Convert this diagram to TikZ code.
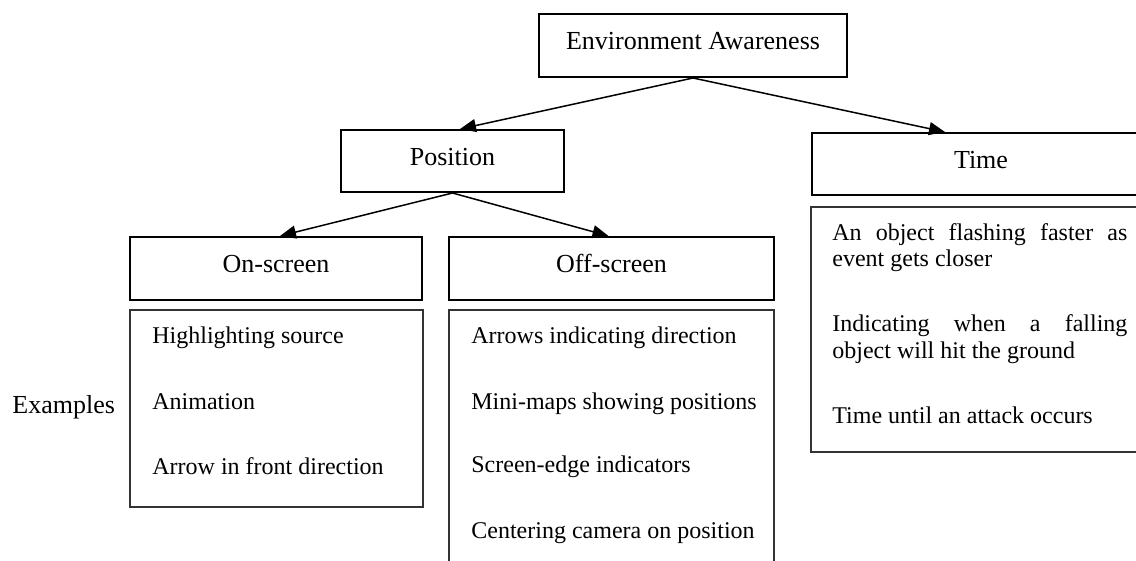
\documentclass[tikz,border=0pt]{standalone}
\usepackage{fontspec}
\setmainfont{Liberation Serif}
\usetikzlibrary{arrows.meta}
\begin{document}
\begin{tikzpicture}[x=0.5pt,y=-0.5pt,
  head/.style={draw=black,line width=1pt,rectangle,inner sep=0pt,font=\fontsize{13}{15.6}\selectfont,text height=9pt,text depth=4.5pt},
  exbox/.style={draw=black!80,line width=0.8pt,rectangle,inner sep=0pt},
  item/.style={anchor=base west,inner sep=0pt,font=\fontsize{12}{14.4}\selectfont},
  arr/.style={line width=0.75pt,-{Triangle[length=8pt,width=6.5pt]}}]
\useasboundingbox (0,0) rectangle (1136,561);
\clip (0,0) rectangle (1136,561);

% heading boxes
\node[head,minimum width=154pt,minimum height=31.5pt] (env) at (693,45.5) {Environment Awareness};
\node[head,minimum width=111.5pt,minimum height=31pt] (pos) at (452.5,161) {Position};
\node[head,minimum width=169pt,minimum height=31pt] (time) at (981,164) {Time};
\node[head,minimum width=146pt,minimum height=31.5pt] (on) at (276,268.5) {On-screen};
\node[head,minimum width=162.5pt,minimum height=31.5pt] (off) at (611.5,268.5) {Off-screen};

% example boxes
\node[exbox,minimum width=146.5pt,minimum height=98.5pt] (onex) at (276.5,408.5) {};
\node[exbox,minimum width=162.5pt,minimum height=140pt] (offex) at (611.5,450) {};
\node[exbox,minimum width=169.5pt,minimum height=122.5pt] (timex) at (980.5,329.5) {};

% label
\node[item,font=\fontsize{13}{15.6}\selectfont] (exlabel) at (12,414) {Examples};

% on-screen items
\node[item] (on1) at (152,344) {Highlighting source};
\node[item] (on2) at (152,409) {Animation};
\node[item] (on3) at (152,474) {Arrow in front direction};

% off-screen items
\node[item] (off1) at (471,344) {Arrows indicating direction};
\node[item] (off2) at (471,409) {Mini-maps showing positions};
\node[item] (off3) at (471,473) {Screen-edge indicators};
\node[item] (off4) at (471,538) {Centering camera on position};

% time items
\node[item] (t1a) at (832,241) {\makebox[147.5pt][s]{An object flashing faster as}};
\node[item] (t1b) at (832,267) {event gets closer};
\node[item] (t2a) at (832,332) {\makebox[147.5pt][s]{Indicating when a falling}};
\node[item] (t2b) at (832,358) {object will hit the ground};
\node[item] (t3) at (832,423) {Time until an attack occurs};

% connectors
\draw[arr] (env.south) -- ([xshift=3.75pt]pos.north);
\draw[arr] (env.south) -- ([xshift=-18pt]time.north);
\draw[arr] (pos.south) -- ([xshift=2pt]on.north);
\draw[arr] (pos.south) -- ([xshift=-1.5pt]off.north);
\end{tikzpicture}
\end{document}
